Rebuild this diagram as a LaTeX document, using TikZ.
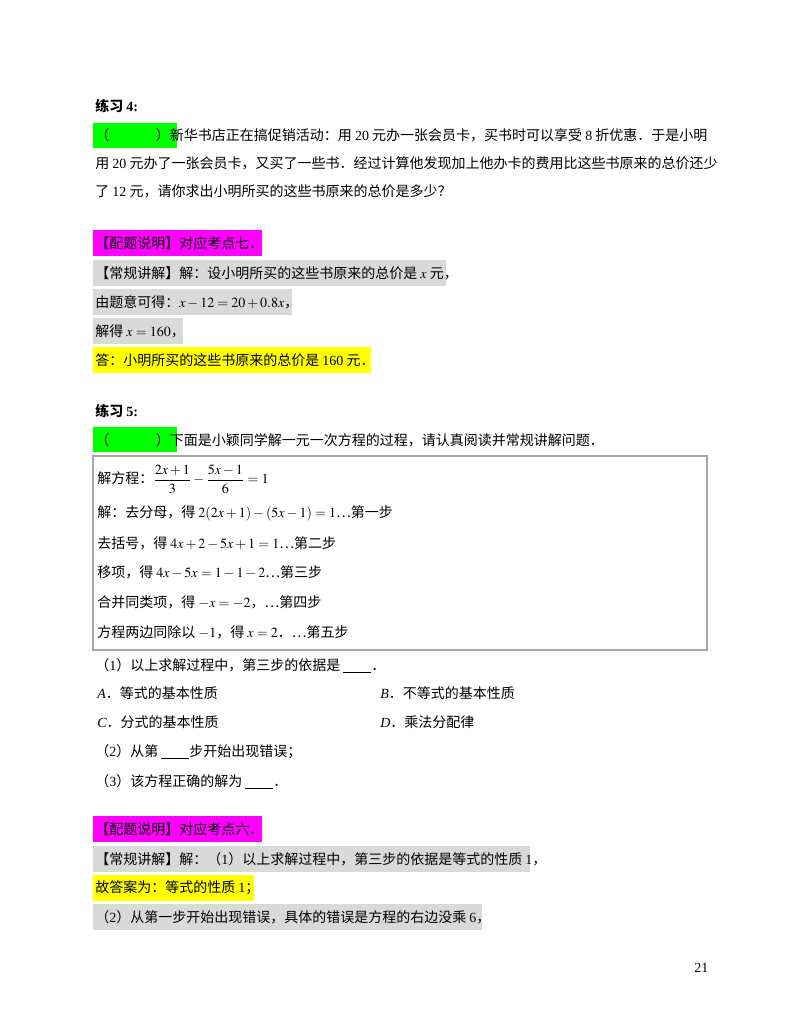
\documentclass[tikz,border=0pt]{standalone}
\usepackage{amsmath}
\usepackage{mathptmx}
\usepackage{fontspec}
\setmainfont{Noto Sans CJK SC}
\newfontfamily\serifnum{Liberation Serif}
\newcommand\nm[1]{{\serifnum #1}}
\newcommand\stars{（{\serifnum\small ★★★★☆}）}
\newcommand\blank{\underline{\hspace{2em}}}
\definecolor{hgray}{HTML}{D9D9D9}
\definecolor{hmag}{HTML}{FF00FF}
\definecolor{hyel}{HTML}{FFFF00}
\definecolor{hgrn}{HTML}{00FF00}
\begin{document}
\begin{tikzpicture}[x=0.75pt,y=-0.75pt,
  t/.style={anchor=west,inner sep=0pt,font=\fontsize{10.5}{13}\selectfont}]
\useasboundingbox[fill=white] (0,0) rectangle (800,1035);
% highlights
\fill[hgrn] (93,123) rectangle (177,148);
\fill[hmag] (93,230) rectangle (262,256);
\fill[hgray] (93,260) rectangle (446,286);
\fill[hgray] (93,289) rectangle (292,315);
\fill[hgray] (93,318) rectangle (183,344);
\fill[hyel] (93,347) rectangle (371,373);
\fill[hgrn] (93,427) rectangle (177,452);
\draw[gray!70,line width=0.8pt] (93,456) rectangle (707,650);
\fill[hmag] (93,816) rectangle (262,842);
\fill[hgray] (93,846) rectangle (530,872);
\fill[hyel] (93,875) rectangle (254,901);
\fill[hgray] (93,904) rectangle (482,930);
% exercise 4
\node[t] (h4) at (95,106) {\bfseries 练习 \nm{\bfseries 4:}};
\node[t] (l1) at (95,135) {\stars 新华书店正在搞促销活动：用 \nm{20} 元办一张会员卡，买书时可以享受 \nm{8} 折优惠．于是小明};
\node[t] (l2) at (95,163) {用 \nm{20} 元办了一张会员卡，又买了一些书．经过计算他发现加上他办卡的费用比这些书原来的总价还少};
\node[t] (l3) at (95,191) {了 \nm{12} 元，请你求出小明所买的这些书原来的总价是多少？};
\node[t] (p1) at (95,243) {【配题说明】对应考点七．};
\node[t] (p2) at (95,273) {【常规讲解】解：设小明所买的这些书原来的总价是 $x$ 元，};
\node[t] (p3) at (95,302) {由题意可得：$x-12=20+0.8x$，};
\node[t] (p4) at (95,331) {解得 $x=160$，};
\node[t] (p5) at (95,360) {答：小明所买的这些书原来的总价是 \nm{160} 元．};
% exercise 5
\node[t] (h5) at (95,411) {\bfseries 练习 \nm{\bfseries 5:}};
\node[t] (q0) at (95,440) {\stars 下面是小颖同学解一元一次方程的过程，请认真阅读并常规讲解问题．};
\node[t] (s0) at (97,479) {解方程：$\dfrac{2x+1}{3}-\dfrac{5x-1}{6}=1$};
\node[t] (s1) at (97,513) {解：去分母，得 $2(2x+1)-(5x-1)=1$…第一步};
\node[t] (s2) at (97,543) {去括号，得 $4x+2-5x+1=1$…第二步};
\node[t] (s3) at (97,572) {移项，得 $4x-5x=1-1-2$…第三步};
\node[t] (s4) at (97,602) {合并同类项，得 $-x=-2$，…第四步};
\node[t] (s5) at (97,632) {方程两边同除以 $-1$，得 $x=2$．…第五步};
\node[t] (q1) at (95,666) {（\nm{1}）以上求解过程中，第三步的依据是 \blank．};
\node[t] (oa) at (97,693) {\nm{\itshape A}．等式的基本性质};
\node[t] (ob) at (380,693) {\nm{\itshape B}．不等式的基本性质};
\node[t] (oc) at (97,722) {\nm{\itshape C}．分式的基本性质};
\node[t] (od) at (380,722) {\nm{\itshape D}．乘法分配律};
\node[t] (q2) at (95,752) {（\nm{2}）从第 \blank 步开始出现错误；};
\node[t] (q3) at (95,782) {（\nm{3}）该方程正确的解为 \blank．};
\node[t] (r1) at (95,829) {【配题说明】对应考点六．};
\node[t] (r2) at (95,859) {【常规讲解】解：（\nm{1}）以上求解过程中，第三步的依据是等式的性质 \nm{1}，};
\node[t] (r3) at (95,888) {故答案为：等式的性质 \nm{1}；};
\node[t] (r4) at (95,917) {（\nm{2}）从第一步开始出现错误，具体的错误是方程的右边没乘 \nm{6}，};
\node[t] (pg) at (694,968) {\nm{21}};
\end{tikzpicture}
\end{document}
